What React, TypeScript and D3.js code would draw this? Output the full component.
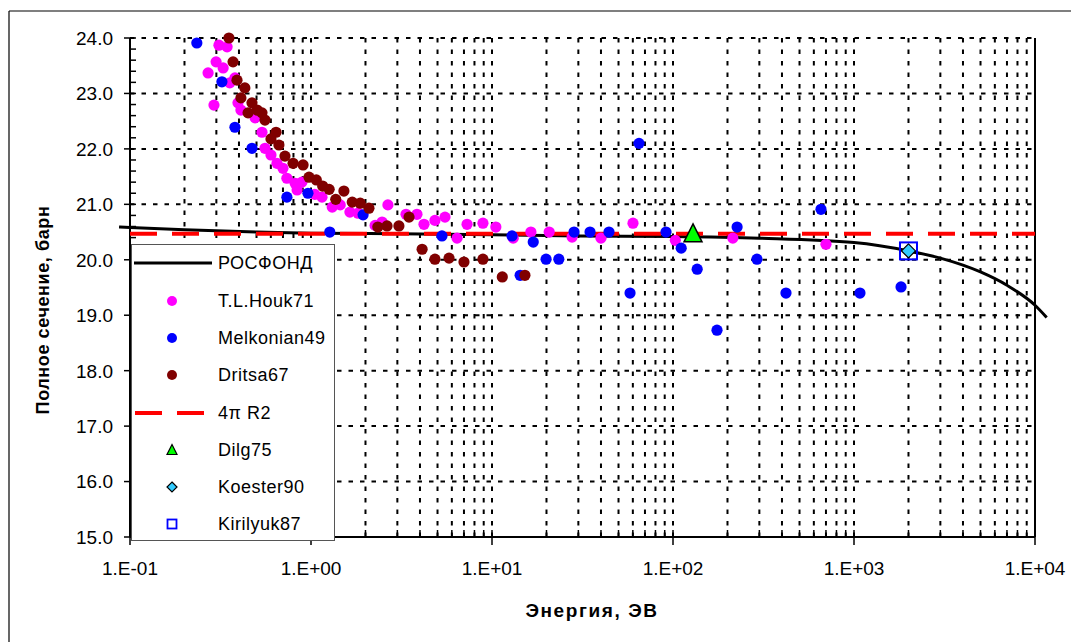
import React from "react";
import * as d3 from "d3";

// ---- data ----
const rosfondE = [0.087, 0.1, 0.2, 0.5, 1, 3, 10, 30, 100, 300, 1000, 2000, 3000, 5000, 7000, 10000, 11600];
const rosfondS = [20.59, 20.58, 20.54, 20.5, 20.48, 20.47, 20.45, 20.43, 20.42, 20.39, 20.31, 20.16, 20.03, 19.78, 19.54, 19.18, 18.96];

const houkE = [0.31, 0.344, 0.299, 0.327, 0.27, 0.38, 0.356, 0.291, 0.395, 0.41, 0.491, 0.536, 0.557, 0.601, 0.649, 0.7, 0.736, 0.817, 0.891, 0.838, 1.05, 1.15, 1.31, 1.45, 1.64, 1.82, 2.26, 2.47, 2.66, 3.35, 3.85, 4.21, 4.84, 5.5, 6.41, 7.28, 8.91, 10.5, 13.1, 16.4, 20.7, 27.7, 40.0, 60.1, 103, 214, 700];
const houkS = [23.87, 23.84, 23.57, 23.46, 23.37, 23.28, 23.19, 22.79, 22.83, 22.7, 22.56, 22.3, 22.01, 21.89, 21.74, 21.65, 21.47, 21.38, 21.4, 21.26, 21.18, 21.13, 20.95, 20.99, 20.86, 20.84, 20.62, 20.68, 20.99, 20.82, 20.82, 20.64, 20.71, 20.77, 20.39, 20.64, 20.66, 20.59, 20.39, 20.5, 20.5, 20.41, 20.39, 20.66, 20.35, 20.39, 20.28];

const melkE = [0.234, 0.322, 0.38, 0.472, 0.736, 0.962, 1.27, 1.94, 5.29, 12.9, 16.9, 19.9, 23.4, 28.4, 34.8, 44.3, 57.9, 64.9, 91.5, 111, 136, 226, 291, 421, 175, 657, 1079, 1819, 14.3];
const melkS = [23.91, 23.21, 22.39, 22.01, 21.13, 21.2, 20.5, 20.81, 20.43, 20.43, 20.32, 20.01, 20.01, 20.5, 20.5, 20.5, 19.4, 22.1, 20.5, 20.21, 19.83, 20.59, 20.01, 19.4, 18.73, 20.91, 19.4, 19.51, 19.72];

const dritsaE = [0.352, 0.371, 0.39, 0.431, 0.41, 0.472, 0.504, 0.536, 0.449, 0.557, 0.641, 0.601, 0.665, 0.718, 0.796, 0.904, 0.975, 1.07, 1.16, 1.26, 1.52, 1.37, 1.69, 1.87, 2.09, 2.34, 2.63, 3.06, 3.48, 4.11, 4.84, 5.79, 7.0, 8.91, 11.4, 15.2];
const dritsaS = [24.0, 23.57, 23.24, 23.1, 22.92, 22.83, 22.7, 22.65, 22.65, 22.52, 22.3, 22.18, 22.07, 21.87, 21.74, 21.71, 21.49, 21.44, 21.33, 21.27, 21.24, 21.09, 21.04, 21.02, 20.93, 20.59, 20.61, 20.61, 20.77, 20.19, 20.01, 20.03, 19.96, 20.01, 19.69, 19.72];

const r2Value = 20.47;
const dilgE = [129];
const dilgS = [20.47];
const koesterE = [2000];
const koesterS = [20.16];
const kirilyukE = [2000];
const kirilyukS = [20.16];

const xTickValues = [0.1, 1, 10, 100, 1000, 10000];
const xTickLabels = ["1.E-01", "1.E+00", "1.E+01", "1.E+02", "1.E+03", "1.E+04"];
const yTickValues = [15, 16, 17, 18, 19, 20, 21, 22, 23, 24];

const legendNames = ["РОСФОНД", "T.L.Houk71", "Melkonian49", "Dritsa67", "4π R2", "Dilg75", "Koester90", "Kirilyuk87"];

const FONT = "Arial, 'Liberation Sans', sans-serif";

export default function App() {
  const W = 1071, H = 642;
  const x = d3.scaleLog().domain([0.1, 1e4]).range([130, 1035]);
  const y = d3.scaleLinear().domain([15, 24]).range([537, 38]);
  const [x0, x1] = x.range();
  const [yb, yt] = y.range();

  const minorX: number[] = [];
  for (let d = -1; d <= 3; d++) for (let k = 2; k <= 9; k++) minorX.push(k * Math.pow(10, d));
  const majorInnerX = [1, 10, 100, 1000];
  const minorY: number[] = [];
  for (let v = 15; v < 24.001; v += 0.2) {
    const r = Math.round(v * 10) / 10;
    if (Math.abs(r - Math.round(r)) > 0.01) minorY.push(r);
  }

  const line = d3
    .line<number>()
    .x((d, i) => x(rosfondE[i]))
    .y((d) => y(d))
    .curve(d3.curveMonotoneX);
  const pts = (E: number[], S: number[]) => E.map((e, i) => [x(e), y(S[i])]);

  const grid = { stroke: "#000", strokeWidth: 2, strokeDasharray: "4.5 7" };
  const tri = (cx: number, cy: number, s: number) =>
    `M${cx},${cy - s * 0.55}L${cx + s * 0.5},${cy + s * 0.45}L${cx - s * 0.5},${cy + s * 0.45}Z`;
  const dia = (cx: number, cy: number, s: number) =>
    `M${cx},${cy - s / 2}L${cx + s / 2},${cy}L${cx},${cy + s / 2}L${cx - s / 2},${cy}Z`;

  const legY = [263, 301, 338, 375, 413, 450, 487, 524];
  const legMX = 172;

  return (
    <svg width={W} height={H} style={{ position: "absolute", left: 0, top: 0, background: "#fff" }} fontFamily={FONT}>
      <rect x={0} y={0} width={W} height={H} fill="#fff" />
      {/* outer frame */}
      <line x1={9} y1={11} x2={W} y2={11} stroke="#000" strokeWidth={1.2} />
      <line x1={9} y1={11} x2={9} y2={H} stroke="#000" strokeWidth={1.2} />

      {/* grid */}
      {minorX.concat(majorInnerX).map((v, i) => (
        <line key={"gx" + i} x1={x(v)} x2={x(v)} y1={yb} y2={yt} {...grid} />
      ))}
      {yTickValues.filter((v) => v > 15).map((v) => (
        <line key={"gy" + v} x1={x0} x2={x1} y1={y(v)} y2={y(v)} {...grid} />
      ))}
      <line x1={x1} x2={x1} y1={yt} y2={yb} stroke="#000" strokeWidth={2} />

      {/* axes */}
      <line x1={x0} x2={x0} y1={yt} y2={yb} stroke="#000" strokeWidth={2} />
      <line x1={x0} x2={x1} y1={yb} y2={yb} stroke="#000" strokeWidth={2} />
      {yTickValues.map((v) => (
        <line key={"yt" + v} x1={x0 - 6} x2={x0 + 6} y1={y(v)} y2={y(v)} stroke="#000" strokeWidth={1.5} />
      ))}
      {minorY.map((v) => (
        <line key={"ym" + v} x1={x0} x2={x0 + 6} y1={y(v)} y2={y(v)} stroke="#000" strokeWidth={1.5} />
      ))}
      {xTickValues.map((v) => (
        <line key={"xt" + v} x1={x(v)} x2={x(v)} y1={yb - 7} y2={yb + 8} stroke="#000" strokeWidth={1.5} />
      ))}
      {minorX.map((v, i) => (
        <line key={"xm" + i} x1={x(v)} x2={x(v)} y1={yb - 7} y2={yb} stroke="#000" strokeWidth={1.5} />
      ))}
      {yTickValues.map((v) => (
        <text key={"yl" + v} x={113} y={y(v)} dy="0.36em" textAnchor="end" fontSize={19} fill="#000">
          {d3.format(".1f")(v)}
        </text>
      ))}
      {xTickValues.map((v, i) => (
        <text key={"xl" + v} x={x(v)} y={575} textAnchor="middle" fontSize={19} fill="#000">
          {xTickLabels[i]}
        </text>
      ))}
      <text x={592} y={617} textAnchor="middle" fontSize={19} fontWeight="bold" letterSpacing={1.6}>
        Энергия, ЭВ
      </text>
      <text transform="translate(49,310) rotate(-90)" textAnchor="middle" fontSize={18} fontWeight="bold" letterSpacing={0.6}>
        Полное сечение, барн
      </text>

      {/* series lines */}
      <path d={line(rosfondS) || ""} fill="none" stroke="#000" strokeWidth={3} />
      <line x1={x0} x2={x1} y1={y(r2Value)} y2={y(r2Value)} stroke="#f00" strokeWidth={4} strokeDasharray="27 15" />

      {/* points */}
      {pts(houkE, houkS).map((p, i) => (
        <circle key={"h" + i} cx={p[0]} cy={p[1]} r={5.6} fill="#ff00ff" />
      ))}
      {pts(melkE, melkS).map((p, i) => (
        <circle key={"m" + i} cx={p[0]} cy={p[1]} r={5.6} fill="#0000ff" />
      ))}
      {pts(dritsaE, dritsaS).map((p, i) => (
        <circle key={"d" + i} cx={p[0]} cy={p[1]} r={5.6} fill="#800000" />
      ))}
      {pts(dilgE, dilgS).map((p, i) => (
        <path key={"g" + i} d={tri(p[0], p[1], 18)} fill="#00ff00" stroke="#000" strokeWidth={1.5} />
      ))}
      {pts(koesterE, koesterS).map((p, i) => (
        <path key={"k" + i} d={dia(p[0], p[1], 14)} fill="#33ccff" stroke="#000" strokeWidth={1.2} />
      ))}
      {pts(kirilyukE, kirilyukS).map((p, i) => (
        <rect key={"q" + i} x={p[0] - 8.5} y={p[1] - 8.5} width={17} height={17} fill="none" stroke="#0000ff" strokeWidth={2} />
      ))}

      {/* legend */}
      <rect x={131.5} y={244.5} width={203} height={296} fill="#fff" stroke="#555" strokeWidth={1} />
      <line x1={134} x2={212} y1={legY[0]} y2={legY[0]} stroke="#000" strokeWidth={3} />
      <circle cx={legMX} cy={legY[1]} r={5} fill="#ff00ff" />
      <circle cx={legMX} cy={legY[2]} r={5} fill="#0000ff" />
      <circle cx={legMX} cy={legY[3]} r={5} fill="#800000" />
      <line x1={135} x2={204} y1={legY[4]} y2={legY[4]} stroke="#f00" strokeWidth={4} strokeDasharray="27 15" />
      <path d={tri(legMX, legY[5], 10)} fill="#00ff00" stroke="#000" strokeWidth={1.2} />
      <path d={dia(legMX, legY[6], 10)} fill="#33ccff" stroke="#000" strokeWidth={1.2} />
      <rect x={legMX - 4.5} y={legY[7] - 4.5} width={9} height={9} fill="none" stroke="#0000ff" strokeWidth={1.8} />
      {legendNames.map((n, i) => (
        <text key={"ln" + i} x={218} y={legY[i]} dy="0.36em" fontSize={18} letterSpacing={0.5} fill="#000">
          {n}
        </text>
      ))}
    </svg>
  );
}
